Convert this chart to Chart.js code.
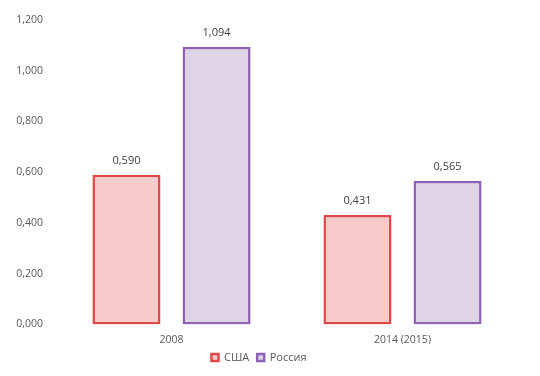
<!DOCTYPE html>
<html>
<head>
<meta charset="utf-8">
<script src="https://cdn.jsdelivr.net/npm/chart.js@4/dist/chart.umd.min.js"></script>
<style>
  html, body { margin: 0; padding: 0; background: #fff; }
  #wrap { width: 540px; height: 376px; position: relative; }
</style>
</head>
<body>
<div id="wrap"><canvas id="c"></canvas></div>
<script>
const categories = ['2008', '2014 (2015)'];
const usa = [0.590, 0.431];
const russia = [1.094, 0.565];
const seriesNames = ['США', 'Россия'];

const fmt = v => v.toFixed(3).replace('.', ',');
const FONT = '"Open Sans", sans-serif';

// подписи значений над столбцами
const valueLabels = {
    id: 'valueLabels',
    afterDatasetsDraw(chart) {
        const ctx = chart.ctx;
        ctx.save();
        ctx.font = '11px ' + FONT;
        ctx.fillStyle = '#404040';
        ctx.textAlign = 'center';
        ctx.textBaseline = 'middle';
        chart.data.datasets.forEach((ds, i) => {
            chart.getDatasetMeta(i).data.forEach((bar, j) => {
                ctx.fillText(fmt(ds.data[j]), bar.x, bar.y - 14);
            });
        });
        ctx.restore();
    }
};

new Chart(document.getElementById('c'), {
    type: 'bar',
    data: {
        labels: categories,
        datasets: [
            {
                label: seriesNames[0],
                data: usa,
                backgroundColor: '#f8cbcb',
                borderColor: '#e04848',
                borderWidth: 2.5,
                borderSkipped: false
            },
            {
                label: seriesNames[1],
                data: russia,
                backgroundColor: '#dfd3e6',
                borderColor: '#8e62b2',
                borderWidth: 2.5,
                borderSkipped: false
            }
        ]
    },
    options: {
        responsive: true,
        maintainAspectRatio: false,
        animation: false,
        categoryPercentage: 0.78,
        barPercentage: 0.755,
        layout: { padding: { left: 0, right: 22, top: 20, bottom: 3 } },
        plugins: {
            tooltip: { enabled: false },
            legend: {
                position: 'bottom',
                labels: {
                    boxWidth: 7,
                    boxHeight: 7,
                    padding: 8,
                    color: '#595959',
                    font: { family: FONT, size: 11 }
                }
            }
        },
        scales: {
            x: {
                grid: { display: false, drawTicks: false },
                border: { display: false },
                afterFit(scale) { scale.height -= 11; },
                ticks: { color: '#595959', font: { family: FONT, size: 10.5 }, padding: 9 }
            },
            y: {
                min: 0,
                max: 1.2,
                grid: { display: false, drawTicks: false },
                border: { display: false },
                afterFit(scale) { scale.width = 56; },
                ticks: {
                    stepSize: 0.2,
                    padding: 13,
                    color: '#595959',
                    font: { family: FONT, size: 10.5 },
                    callback: v => fmt(v)
                }
            }
        }
    },
    plugins: [valueLabels]
});
</script>
</body>
</html>
